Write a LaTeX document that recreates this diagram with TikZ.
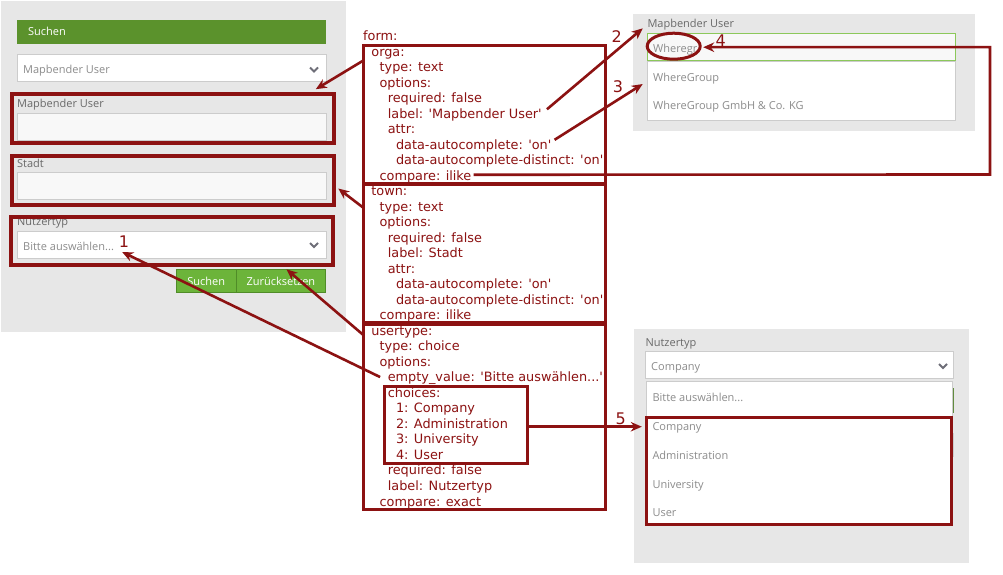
\documentclass[tikz,border=0pt]{standalone}
\usepackage{fontspec}
\usetikzlibrary{arrows.meta,calc,shapes.geometric}
\newfontfamily\uifont{Open Sans}
\newfontfamily\codefont[Ligatures=TeXOff]{DejaVu Sans}
\definecolor{dred}{RGB}{140,18,18}
\definecolor{panelgray}{RGB}{231,231,231}
\definecolor{fieldfill}{RGB}{248,248,248}
\definecolor{fieldline}{RGB}{204,204,204}
\definecolor{hdrgreen}{RGB}{91,146,44}
\definecolor{btngreen}{RGB}{108,180,58}
\definecolor{btnline}{RGB}{80,140,40}
\definecolor{labelgray}{RGB}{105,105,105}
\definecolor{textgray}{RGB}{140,140,140}
\definecolor{focusgreen}{RGB}{140,200,90}
\definecolor{chevgray}{RGB}{110,110,120}
\newcommand{\rectnode}[6]{\node[#1,anchor=north west,inner sep=0pt,outer sep=0pt,minimum width={(#5)-(#3)},minimum height={(#6)-(#4)}] (#2) at (#3,#4) {};}
\newcommand{\codeln}[4]{\node[codeline] (#1) at ({363+8.2*#2},{40.7+15.51*#3}) {#4};}
\begin{document}
\begin{tikzpicture}[x=1pt,y=-1pt,
  uitext/.style={inner sep=0pt, anchor=base west, font=\uifont\fontsize{11}{13}\selectfont},
  uilabel/.style={uitext, text=labelgray},
  uival/.style={uitext, text=textgray},
  codeline/.style={inner sep=0pt, anchor=base west, text=dred, font=\codefont\fontsize{12.85}{15}\selectfont},
  redbox/.style={draw=dred, line width=3pt},
  redboxthick/.style={draw=dred, line width=3.8pt},
  fieldbox/.style={draw=fieldline, fill=fieldfill, line width=0.8pt},
  selectbox/.style={draw=fieldline, fill=white, line width=0.8pt},
  chev/.style={draw=chevgray, line width=1.8pt},
  conn/.style={draw=dred, line width=2.6pt, -{Stealth[length=11pt,width=9.5pt]}},
  num/.style={inner sep=0pt, text=dred, font=\codefont\fontsize{16}{18}\selectfont},
  btn/.style={draw=btnline, fill=btngreen, line width=0.8pt, anchor=north west, inner sep=0pt, text=white, font=\uifont\fontsize{11}{13}\selectfont},
]
\useasboundingbox (0,0) rectangle (1003,575);
\fill[white] (0,0) rectangle (1003,575);

% ---------- left panel ----------
\rectnode{fill=panelgray}{lpanel}{1}{1}{346}{332}
\rectnode{fill=hdrgreen}{hdr}{17}{20}{326}{43.7}
\node[uitext, text=white] (hdrt) at (28,36) {Suchen};
\rectnode{selectbox}{dd1}{17}{54.3}{326}{81.7}
\node[uival] (dd1t) at (23,74) {Mapbender User};
\draw[chev] (310,67.5) -- (314,71.5) -- (318,67.5);
\node[uilabel] (lab1) at (17,108) {Mapbender User};
\rectnode{fieldbox}{in1}{17}{113.3}{326}{140.7}
\node[uilabel] (lab2) at (17,167) {Stadt};
\rectnode{fieldbox}{in2}{17}{172.3}{326}{199.3}
\node[uilabel] (lab3) at (17,225.7) {Nutzertyp};
\rectnode{selectbox}{sel3}{17}{231.7}{326}{258.3}
\node[uival] (bsel) at (23,250.7) {Bitte auswählen...};
\draw[chev] (310,243) -- (314,247) -- (318,243);
\node[btn, minimum width=59.7, minimum height=23] (b1) at (176,269.3) {Suchen};
\node[btn, minimum width=89.6, minimum height=23] (b2) at (235.7,269.3) {Zurücksetzen};
\rectnode{redboxthick}{box1}{11.7}{93.7}{333.8}{143.3}
\rectnode{redboxthick}{box2}{11.7}{156.3}{333.8}{204.8}
\rectnode{redboxthick}{box3}{11.3}{217}{333}{264.8}

% ---------- right top panel ----------
\rectnode{fill=panelgray}{rpanel}{632.7}{14}{975}{130.7}
\node[uilabel] (rlabel) at (647.3,28) {Mapbender User};
\rectnode{selectbox}{rlist}{647.7}{61}{955.7}{120}
\rectnode{draw=focusgreen, fill=fieldfill, line width=1pt}{rin}{647.7}{33.3}{955.7}{61}
\node[uival] (wtext) at (653,52.3) {Wheregr};
\node[uival] (wg1) at (653,81.3) {WhereGroup};
\node[uival] (wg2) at (653,110) {WhereGroup GmbH \& Co. KG};
\node[ellipse, draw=dred, line width=3pt, inner sep=0pt, minimum width=53, minimum height=26] (ell) at (673.7,46.2) {};

% ---------- right bottom panel ----------
\rectnode{fill=panelgray}{bpanel}{634}{329}{969}{563}
\node[uilabel] (nlab) at (645.3,346.3) {Nutzertyp};
\rectnode{selectbox}{nsel}{645.3}{351.7}{953.3}{378.3}
\node[uival] (nselt) at (651,370.7) {Company};
\draw[chev] (939,364) -- (943,368) -- (947,364);
\rectnode{selectbox}{nlist}{646}{381}{952.7}{523}
\draw[draw=focusgreen!70!black, line width=1.2pt] (953.6,388) -- (953.6,413);
\draw[draw=fieldline, line width=1pt] (953.8,433) -- (953.8,457);
\node[uival] (nph) at (652.3,401.3) {Bitte auswählen...};
\node[uival] (ni1) at (652.3,430) {Company};
\node[uival] (ni2) at (652.3,459) {Administration};
\node[uival] (ni3) at (652.3,488) {University};
\node[uival] (ni4) at (652.3,516.7) {User};
\rectnode{redbox}{rb}{646.8}{417.2}{951.2}{524.3}

% ---------- code ----------
\codeln{c0}{0}{0}{form:}
\codeln{c1}{1}{1}{orga:}
\codeln{c2}{2}{2}{type: text}
\codeln{c3}{2}{3}{options:}
\codeln{c4}{3}{4}{required: false}
\codeln{c5}{3}{5}{label: 'Mapbender User'}
\codeln{c6}{3}{6}{attr:}
\codeln{c7}{4}{7}{data-autocomplete: 'on'}
\codeln{c8}{4}{8}{data-autocomplete-distinct: 'on'}
\codeln{c9}{2}{9}{compare: ilike}
\codeln{c10}{1}{10}{town:}
\codeln{c11}{2}{11}{type: text}
\codeln{c12}{2}{12}{options:}
\codeln{c13}{3}{13}{required: false}
\codeln{c14}{3}{14}{label: Stadt}
\codeln{c15}{3}{15}{attr:}
\codeln{c16}{4}{16}{data-autocomplete: 'on'}
\codeln{c17}{4}{17}{data-autocomplete-distinct: 'on'}
\codeln{c18}{2}{18}{compare: ilike}
\codeln{c19}{1}{19}{usertype:}
\codeln{c20}{2}{20}{type: choice}
\codeln{c21}{2}{21}{options:}
\codeln{c22}{3}{22}{empty\_value: 'Bitte auswählen...'}
\codeln{c23}{3}{23}{choices:}
\codeln{c24}{4}{24}{1: Company}
\codeln{c25}{4}{25}{2: Administration}
\codeln{c26}{4}{26}{3: University}
\codeln{c27}{4}{27}{4: User}
\codeln{c28}{3}{28}{required: false}
\codeln{c29}{3}{29}{label: Nutzertyp}
\codeln{c30}{2}{30}{compare: exact}
\rectnode{redbox}{ob}{363.7}{45.3}{605.8}{183}
\rectnode{redbox}{tb}{363.7}{184.5}{605.8}{322.5}
\rectnode{redbox}{ub}{363.7}{324.3}{605.8}{509}
\rectnode{redbox}{cb}{384.2}{386.5}{527.2}{463.2}

% ---------- connectors ----------
\draw[conn] ($(ob.north west)+(0,15)$) -- ($(box1.north east)+(-18,-4.5)$);
\draw[conn] ($(tb.north west)+(0,23.5)$) -- ($(box2.east)+(4.5,8)$);
\draw[conn] ($(ub.north west)+(0,11)$) -- ($(box3.south east)+(-46.5,4.5)$);
\draw[conn] ($(c22.west)+(-7.5,-1.5)$) -- ($(bsel.east)+(8,5.4)$);
\draw[conn] ($(c5.north east)+(5,1)$) -- ($(rlabel.west)+(-4.6,3.2)$);
\draw[conn] ($(c7.north east)+(3,0.5)$) -- ($(wg1.west)+(-10.3,5.6)$);
\coordinate (k4) at (990,174.5);
\draw[conn] ($(c9.east)+(2,-2)$) -- (k4) |- ($(ell.east)+(1.5,1)$);
\coordinate (t5) at ($(rb.north west)+(-5,9.5)$);
\draw[conn] (cb.east |- t5) -- (t5);

% ---------- numbers ----------
\node[num] (n1) at (124,241.7) {1};
\node[num] (n2) at (616.7,36.7) {2};
\node[num] (n3) at (618,86.7) {3};
\node[num] (n4) at (720.7,40.7) {4};
\node[num] (n5) at (620.7,418.3) {5};
\end{tikzpicture}
\end{document}
